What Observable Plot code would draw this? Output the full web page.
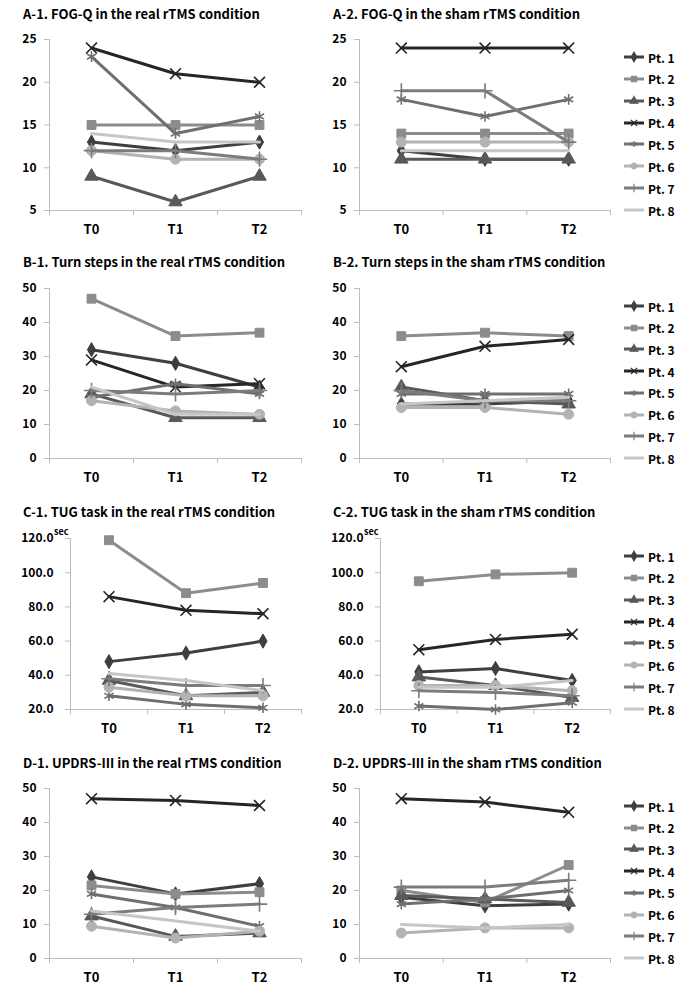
<!DOCTYPE html>
<html><head><meta charset="utf-8">
<script src="https://cdn.jsdelivr.net/npm/d3@7"></script>
<script src="https://cdn.jsdelivr.net/npm/@observablehq/plot@0.6"></script>
<style>
body{margin:0;background:#fff;}
#root{position:relative;width:700px;height:993px;overflow:hidden;font-family:"Noto Sans CJK KR","Noto Sans",sans-serif;color:#000;}
.title{position:absolute;font-weight:bold;font-size:13px;white-space:nowrap;line-height:18px;}
.panel{position:absolute;}
.legend{position:absolute;left:622px;}
.lrow{position:absolute;left:0;height:16px;display:flex;align-items:center;white-space:nowrap;font-weight:bold;font-size:12px;}
.lrow svg{margin-right:2px;}
.sec{position:absolute;font-weight:bold;font-size:9px;line-height:10px;}
</style></head><body><div id="root"></div><script>
// ---- data ----
const timepoints = ["T0", "T1", "T2"];
const patients = ["Pt. 1", "Pt. 2", "Pt. 3", "Pt. 4", "Pt. 5", "Pt. 6", "Pt. 7", "Pt. 8"];

// FOG-Q (rows = patients, cols = T0,T1,T2)
const fogReal = [[13,12,13],[15,15,15],[9,6,9],[24,21,20],[23,14,16],[12,11,11],[12,12,11],[14,13,13]];
const fogSham = [[12,11,11],[14,14,14],[11,11,11],[24,24,24],[18,16,18],[13,13,13],[19,19,13],[12,12,12]];
// Turn steps
const turnReal = [[32,28,21],[47,36,37],[19,12,12],[29,21,22],[18,22,19],[17,14,13],[20,19,20],[21,13,13]];
const turnSham = [[16,16,17],[36,37,36],[21,17,16],[27,33,35],[19,19,19],[15,15,13],[20,17,17],[16,17,18]];
// TUG task (sec)
const tugReal = [[48,53,60],[119,88,94],[37,28,30],[86,78,76],[28,23,21],[33,28,28],[38,34,34],[41,37,31]];
const tugSham = [[42,44,37],[95,99,100],[39,34,27],[55,61,64],[22,20,24],[34,34,31],[31,30,28],[33,33,37]];
// UPDRS-III
const updrsReal = [[24,19,22],[21.5,19,19.5],[12.5,6.5,7.5],[47,46.5,45],[19,15,9.5],[9.5,6,8],[13,15,16],[14,11,8]];
const updrsSham = [[18,15.5,16],[20,16.5,27.5],[18.5,17.5,16.5],[47,46,43],[16,17.5,20],[7.5,9,9],[21,21,23],[10,9,10]];

// tick values
const ticksFog = [5, 10, 15, 20, 25];
const ticksTurn = [0, 10, 20, 30, 40, 50];
const ticksTug = [20, 40, 60, 80, 100, 120];
const ticksUpdrs = [0, 10, 20, 30, 40, 50];

const titles = [
  ["A-1. FOG-Q in the real rTMS condition", "A-2. FOG-Q in the sham rTMS condition"],
  ["B-1. Turn steps in the real rTMS condition", "B-2. Turn steps in the sham rTMS condition"],
  ["C-1. TUG task in the real rTMS condition", "C-2. TUG task in the sham rTMS condition"],
  ["D-1. UPDRS-III in the real rTMS condition", "D-2. UPDRS-III in the sham rTMS condition"]
];

// ---- styles ----
const colors = ["#3f3f3f", "#8c8c8c", "#595959", "#262626", "#6f6f6f", "#b3b3b3", "#7c7c7c", "#c6c6c6"];
const symbols = ["diamond", "square", "triangle", "times", "asterisk", "circle", "plus", null];
const filled = [true, true, true, false, false, true, false, false];
const axisColor = "#bdbdbd";
const FONT = '"Noto Sans CJK KR","Noto Sans",sans-serif';

const rowsLayout = [
  {top: 39, bottom: 210, title: 14, data: [fogReal, fogSham], ticks: ticksFog, fmt: d => d3.format("d")(d), ml: [49, 39]},
  {top: 288, bottom: 458, title: 262, data: [turnReal, turnSham], ticks: ticksTurn, fmt: d => d3.format("d")(d), ml: [49, 39]},
  {top: 538, bottom: 709, title: 512, data: [tugReal, tugSham], ticks: ticksTug, fmt: d => d3.format(".1f")(d), ml: [70, 60], sec: true},
  {top: 788, bottom: 958, title: 763, data: [updrsReal, updrsSham], ticks: ticksUpdrs, fmt: d => d3.format("d")(d), ml: [49, 39]}
];

const root = document.getElementById("root");
const xDomain = [-0.5, timepoints.length - 0.5];
const boundaries = d3.range(timepoints.length + 1).map(i => i - 0.5);

rowsLayout.forEach((row, r) => {
  [0, 1].forEach(c => {
    const left = c === 0 ? 0 : 320;
    const width = c === 0 ? 320 : 300;
    const marginRight = c === 0 ? 19 : 10;
    const marginTop = 12, marginBottom = 30;
    const height = row.bottom - row.top + marginTop + marginBottom;
    const yDomain = [row.ticks[0], row.ticks[row.ticks.length - 1]];
    const values = row.data[c];

    const marks = [
      Plot.ruleX([xDomain[0]], {stroke: axisColor}),
      Plot.ruleY([yDomain[0]], {stroke: axisColor}),
      Plot.axisY({ticks: row.ticks, tickSize: 5, tickPadding: row.sec ? 12 : 8, stroke: axisColor, fill: "#000",
        fontSize: 12, fontWeight: "bold", tickFormat: row.fmt, label: null}),
      Plot.axisX({ticks: boundaries, tickSize: 5, stroke: axisColor, tickFormat: () => "", label: null}),
      Plot.axisX({ticks: d3.range(timepoints.length), tickSize: 0, tickPadding: 14, fill: "#000",
        fontSize: 13, fontWeight: "bold", tickFormat: i => timepoints[i], label: null})
    ];
    patients.forEach((p, i) => {
      const pts = values[i].map((v, j) => ({pt: p, t: j, v}));
      marks.push(Plot.line(pts, {x: "t", y: "v", stroke: colors[i], strokeWidth: 3}));
      if (symbols[i]) {
        marks.push(Plot.dot(pts, {x: "t", y: "v", symbol: symbols[i], r: symbols[i] === "diamond" ? 4.3 : 5,
          fill: filled[i] ? colors[i] : "none", stroke: colors[i], strokeWidth: filled[i] ? 1 : 1.6}));
      }
    });

    const chart = Plot.plot({
      width, height, marginLeft: row.ml[c], marginRight, marginTop, marginBottom,
      x: {type: "linear", domain: xDomain, axis: null},
      y: {type: "linear", domain: yDomain, axis: null},
      style: {fontFamily: FONT, overflow: "visible", background: "transparent"},
      marks
    });
    const wrap = document.createElement("div");
    wrap.className = "panel";
    wrap.style.left = left + "px";
    wrap.style.top = (row.top - marginTop) + "px";
    wrap.appendChild(chart);
    root.appendChild(wrap);

    const t = document.createElement("div");
    t.className = "title";
    t.textContent = titles[r][c];
    t.style.left = (c === 0 ? 23 : 333) + "px";
    t.style.top = (row.title - 9) + "px";
    root.appendChild(t);

    if (row.sec) {
      const s = document.createElement("div");
      s.className = "sec";
      s.textContent = "sec";
      s.style.left = (left + row.ml[c] - 16) + "px";
      s.style.top = (row.top - 11) + "px";
      root.appendChild(s);
    }
  });

  // legend (right panel)
  const lg = document.createElement("div");
  lg.className = "legend";
  lg.style.top = "0px";
  const first = row.top + 18, last = row.bottom;
  const step = (last - first) / (patients.length - 1);
  const symMap = {diamond: d3.symbolDiamond, square: d3.symbolSquare, triangle: d3.symbolTriangle,
    times: d3.symbolTimes, asterisk: d3.symbolAsterisk, circle: d3.symbolCircle, plus: d3.symbolPlus};
  patients.forEach((p, i) => {
    const div = document.createElement("div");
    div.className = "lrow";
    div.style.top = (first + i * step - 8) + "px";
    let sym = "";
    if (symbols[i]) {
      const path = d3.symbol(symMap[symbols[i]], 26)();
      sym = `<path d="${path}" transform="translate(12,6)" fill="${filled[i] ? colors[i] : "none"}" stroke="${colors[i]}" stroke-width="1.2"/>`;
    }
    div.innerHTML = `<svg width="24" height="12"><line x1="2" x2="22" y1="6" y2="6" stroke="${colors[i]}" stroke-width="3"/>${sym}</svg><span>${p}</span>`;
    lg.appendChild(div);
  });
  root.appendChild(lg);
});
</script></body></html>
